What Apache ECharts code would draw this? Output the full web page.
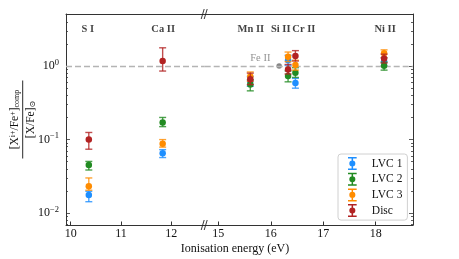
<!DOCTYPE html>
<html><head><meta charset="utf-8">
<script src="https://cdn.jsdelivr.net/npm/echarts@6/dist/echarts.min.js"></script>
<style>html,body{margin:0;padding:0;background:#fff}#c{width:459px;height:259px}</style>
</head><body><div id="c"></div>
<script>
// ---------- data ----------
const elements = ['S I', 'Ca II', 'Mn II', 'Si II', 'Cr II', 'Ni II'];
const energies = [10.36, 11.83, 15.61, 16.33, 16.47, 18.16];
const elementLabelX = [10.34, 11.84, 15.62, 16.19, 16.63, 18.18];
const elementLabelY = 3.19;
const seriesNames = ['LVC 1', 'LVC 2', 'LVC 3', 'Disc'];
const seriesColors = ['#1e8fff', '#228b22', '#ff8c00', '#b22222'];
const lvc1   = [0.0177, 0.065, 0.62, 1.20, 0.59, 1.15];
const lvc1Lo = [0.0143, 0.057, 0.53, 1.02, 0.50, 1.00];
const lvc1Hi = [0.0198, 0.073, 0.72, 1.40, 0.68, 1.30];
const lvc2   = [0.045, 0.171, 0.56, 0.73, 0.81, 1.01];
const lvc2Lo = [0.0386, 0.150, 0.46, 0.61, 0.70, 0.88];
const lvc2Hi = [0.0505, 0.200, 0.65, 0.86, 0.95, 1.13];
const lvc3   = [0.0232, 0.088, 0.72, 1.34, 1.03, 1.49];
const lvc3Lo = [0.0205, 0.079, 0.62, 1.15, 0.88, 1.30];
const lvc3Hi = [0.0301, 0.100, 0.83, 1.55, 1.20, 1.66];
const disc   = [0.100, 1.17, 0.66, 0.90, 1.37, 1.27];
const discLo = [0.074, 0.855, 0.56, 0.78, 1.17, 1.10];
const discHi = [0.125, 1.77, 0.80, 1.05, 1.62, 1.45];
const feII = [16.16, 1.0];
const xTicksLeft = [10, 11, 12];
const xTicksRight = [15, 16, 17, 18];
const xRangeLeft = [9.906, 12.667];
const xRangeRight = [14.741, 18.711];
const yMajor = [0.01, 0.1, 1];
const yMinor = [0.007, 0.008, 0.009, 0.02, 0.03, 0.04, 0.05, 0.06, 0.07, 0.08, 0.09,
                0.2, 0.3, 0.4, 0.5, 0.6, 0.7, 0.8, 0.9, 2, 3, 4, 5];
const yRange = [0.0069, 5.1];

// ---------- chart ----------
const FONT = 'Liberation Serif, DejaVu Serif, serif';
const INK = '#111';
const values = [lvc1, lvc2, lvc3, disc];
const lows = [lvc1Lo, lvc2Lo, lvc3Lo, discLo];
const highs = [lvc1Hi, lvc2Hi, lvc3Hi, discHi];
const legendIcon = 'path://M0 0H8V1.4H0Z M0 10.6H8V12H0Z M3.3 0H4.7V12H3.3Z M1.2 6A2.8 2.8 0 1 1 6.8 6A2.8 2.8 0 1 1 1.2 6Z';
const gridOf = x => (x <= xRangeLeft[1] ? 0 : 1);
const yIdx = g => (g === 0 ? 0 : 2);

const chart = echarts.init(document.getElementById('c'), null, {renderer: 'canvas'});

function errSeries(k, g) {
  const color = seriesColors[k];
  const idx = energies.map((x, i) => i).filter(i => gridOf(energies[i]) === g);
  return {
    type: 'custom', name: seriesNames[k] + ' err', z: 2 + k * 2, silent: true,
    xAxisIndex: g, yAxisIndex: yIdx(g),
    data: idx.map(i => [energies[i], lows[k][i], highs[k][i]]),
    encode: {x: 0, y: [1, 2]},
    renderItem: function (params, api) {
      const x = api.value(0);
      const p1 = api.coord([x, api.value(1)]);
      const p2 = api.coord([x, api.value(2)]);
      const w = 3.5;
      const st = {stroke: color, lineWidth: 1.4, opacity: 0.8};
      return {type: 'group', children: [
        {type: 'line', shape: {x1: p1[0], y1: p1[1], x2: p2[0], y2: p2[1]}, style: st},
        {type: 'line', shape: {x1: p1[0] - w, y1: p1[1], x2: p1[0] + w, y2: p1[1]}, style: st},
        {type: 'line', shape: {x1: p2[0] - w, y1: p2[1], x2: p2[0] + w, y2: p2[1]}, style: st}
      ]};
    }
  };
}
function ptSeries(k, g) {
  const idx = energies.map((x, i) => i).filter(i => gridOf(energies[i]) === g);
  return {
    type: 'scatter', name: seriesNames[k], z: 3 + k * 2,
    xAxisIndex: g, yAxisIndex: yIdx(g),
    symbol: 'circle', symbolSize: 6.5,
    itemStyle: {color: seriesColors[k], opacity: 1},
    data: idx.map(i => [energies[i], values[k][i]])
  };
}

const series = [];
for (let g = 0; g < 2; g++) {
  for (let k = 0; k < 4; k++) { series.push(errSeries(k, g)); series.push(ptSeries(k, g)); }
  series.push({
    type: 'scatter', name: 'unity' + g, z: 0, silent: true, data: [],
    xAxisIndex: g, yAxisIndex: yIdx(g),
    markLine: {silent: true, symbol: 'none', label: {show: false}, animation: false,
      lineStyle: {color: '#b4b4b4', type: [6, 3], width: 1.3},
      data: [{yAxis: 1}]}
  });
  const li = elementLabelX.map((x, i) => i).filter(i => gridOf(elementLabelX[i]) === g);
  series.push({
    type: 'scatter', name: 'elements' + g, symbolSize: 0, silent: true,
    xAxisIndex: g, yAxisIndex: yIdx(g),
    data: li.map(i => ({value: [elementLabelX[i], elementLabelY], name: elements[i]})),
    label: {show: true, position: 'inside', formatter: p => p.name, color: INK,
      fontFamily: FONT, fontSize: 10.5, fontWeight: 'bold'}
  });
}
series.push({
  type: 'scatter', name: 'ref', z: 1, symbolSize: 5.5, itemStyle: {color: '#666'},
  xAxisIndex: 1, yAxisIndex: 2,
  data: [{value: feII, label: {show: true, formatter: 'Fe II', position: 'left',
    offset: [-1, -8], color: '#777', fontFamily: FONT, fontSize: 10.5}}]
});

const AX = {color: '#333', width: 1};
function xAxisDef(g, range, ticks, pos) {
  const bottomAx = pos === 'bottom';
  return {
    type: 'value', gridIndex: g, position: pos, min: range[0], max: range[1],
    axisLine: {show: true, onZero: false, lineStyle: AX}, splitLine: {show: false},
    axisTick: {show: bottomAx, inside: true, length: 3.5, customValues: ticks, lineStyle: {color: '#333'}},
    axisLabel: bottomAx ? {customValues: ticks, margin: 3, color: INK, fontFamily: FONT, fontSize: 12} : {show: false}
  };
}
function yAxisDef(g, pos, ticks, len, labels, line) {
  return {
    type: 'log', logBase: 10, gridIndex: g, min: yRange[0], max: yRange[1], position: pos,
    axisLine: {show: line, lineStyle: AX}, splitLine: {show: false},
    axisTick: {show: true, inside: true, length: len, customValues: ticks,
      lineStyle: {color: '#333', width: 0.8}},
    axisLabel: labels ? {
      show: true, customValues: yMajor, margin: 7, color: INK,
      fontFamily: FONT, fontSize: 12,
      formatter: v => '10{s|' + String(Math.round(Math.log10(v))).replace('-', '\u2212') + '}',
      rich: {s: {fontFamily: FONT, fontSize: 8.5, color: INK, verticalAlign: 'bottom', padding: [0, 0, 7, 0]}}
    } : {show: false}
  };
}

const option = {
  backgroundColor: '#fff',
  animation: false,
  grid: [
    {left: 66, top: 14, bottom: 34, width: 138.7},
    {left: 204.7, right: 46, top: 14, bottom: 34}
  ],
  xAxis: [
    xAxisDef(0, xRangeLeft, xTicksLeft, 'bottom'),
    xAxisDef(1, xRangeRight, xTicksRight, 'bottom'),
    xAxisDef(0, xRangeLeft, xTicksLeft, 'top'),
    xAxisDef(1, xRangeRight, xTicksRight, 'top')
  ],
  yAxis: [
    yAxisDef(0, 'left', yMajor, 4, true, true),
    yAxisDef(0, 'left', yMinor, 2, false, false),
    yAxisDef(1, 'right', yMajor, 4, false, true),
    yAxisDef(1, 'right', yMinor, 2, false, false)
  ],
  legend: {
    data: seriesNames.map(n => ({name: n, icon: legendIcon})),
    orient: 'vertical', left: 338, top: 154,
    itemWidth: 9, itemHeight: 13, itemGap: 2.7,
    padding: [3, 5, 3, 10],
    borderColor: '#d0d0d0', borderWidth: 1, borderRadius: 3, backgroundColor: 'rgba(255,255,255,0.8)',
    textStyle: {color: INK, fontFamily: FONT, fontSize: 11.5, padding: [0, 0, 0, 10]},
    selectedMode: false
  },
  series: series
};
chart.setOption(option);

// break marks, x-axis title, y-axis title (fraction)
const bx = chart.convertToPixel({xAxisIndex: 0}, xRangeLeft[1]);
const gl = chart.convertToPixel({xAxisIndex: 0}, xRangeLeft[0]);
const gr = chart.convertToPixel({xAxisIndex: 1}, xRangeRight[1]);
const gridTop = chart.convertToPixel({yAxisIndex: 0}, yRange[1]);
const gridBottom = chart.convertToPixel({yAxisIndex: 0}, yRange[0]);
function slashes(y) {
  const s = {stroke: '#222', lineWidth: 0.9};
  return [
    {type: 'line', z: 50, shape: {x1: bx - 3.5, y1: y + 5, x2: bx - 0.5, y2: y - 5}, style: s},
    {type: 'line', z: 50, shape: {x1: bx - 0.5, y1: y + 5, x2: bx + 2.5, y2: y - 5}, style: s}
  ];
}
const rich = {
  sup: {fontFamily: FONT, fontSize: 8, fill: INK, verticalAlign: 'top', padding: [0, 0, 4, 0]},
  sub: {fontFamily: FONT, fontSize: 8, fill: INK, verticalAlign: 'bottom', padding: [4, 0, 0, 0]}
};
chart.setOption({
  graphic: [].concat(slashes(gridTop), slashes(gridBottom), [
    {type: 'text', x: (gl + gr) / 2 - 4.5, y: gridBottom + 17.5, style: {text: 'Ionisation energy (eV)',
      fontFamily: FONT, fontSize: 12, fill: INK, align: 'center', verticalAlign: 'top'}},
    {type: 'group', x: 22.7, y: (gridTop + gridBottom) / 2, rotation: Math.PI / 2,
    children: [
      {type: 'line', shape: {x1: -39, y1: 0, x2: 39, y2: 0}, style: {stroke: INK, lineWidth: 0.9}},
      {type: 'text', x: 0, y: -2, style: {text: '[X{sup|i+}/Fe{sup|+}]{sub|comp}', fontFamily: FONT, fontSize: 11.5,
        fill: INK, align: 'center', verticalAlign: 'bottom', rich: rich}},
      {type: 'text', x: 0, y: 2, style: {text: '[X/Fe]{sub|\u2299}', fontFamily: FONT, fontSize: 11.5,
        fill: INK, align: 'center', verticalAlign: 'top', rich: rich}}
    ]
  }])
});
</script></body></html>
